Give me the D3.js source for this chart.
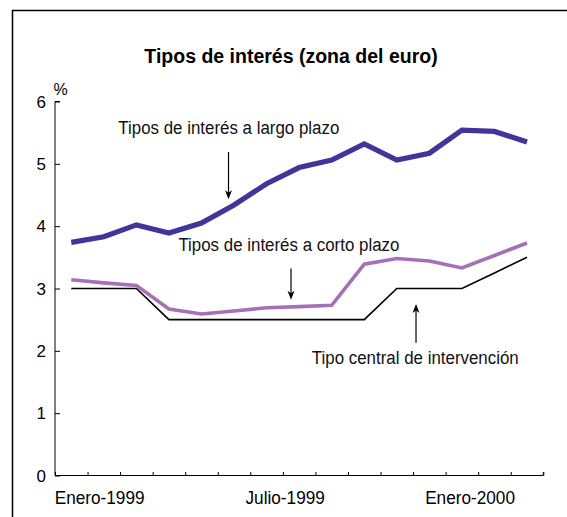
<!DOCTYPE html>
<html>
<head>
<meta charset="utf-8">
<script src="https://cdn.jsdelivr.net/npm/d3@7/dist/d3.min.js"></script>
<style>
  html, body { margin: 0; padding: 0; background: #fff; }
  svg { display: block; font-family: "Liberation Sans", Arial, sans-serif; }
</style>
</head>
<body>
<svg id="chart" width="567" height="517"></svg>
<script>
// ---- Data ----
const months = ["1999-01","1999-02","1999-03","1999-04","1999-05","1999-06","1999-07",
                "1999-08","1999-09","1999-10","1999-11","1999-12","2000-01","2000-02","2000-03"];
const longTerm  = [3.74, 3.83, 4.02, 3.89, 4.05, 4.34, 4.68, 4.94, 5.06, 5.32, 5.06, 5.17, 5.54, 5.52, 5.35];
const shortTerm = [3.14, 3.09, 3.05, 2.67, 2.59, 2.64, 2.69, 2.71, 2.73, 3.39, 3.48, 3.44, 3.33, 3.53, 3.73];
const refiRate  = [3.00, 3.00, 3.00, 2.50, 2.50, 2.50, 2.50, 2.50, 2.50, 2.50, 3.00, 3.00, 3.00, 3.25, 3.50];
const yTicks = [0, 1, 2, 3, 4, 5, 6];
const xTickLabels = ["Enero-1999", "Julio-1999", "Enero-2000"];
const xTickLabelPos = [1.37, 7.07, 12.75]; // centre of label, in months from start
const title = "Tipos de interés (zona del euro)";
const unitLabel = "%";
// annotations: text start (month, value), arrow from/to (month, value)
const annotations = [
  { text: "Tipos de interés a largo plazo", tx: 1.945, ty: 5.48, ax: 5.33, a0: 5.19, a1: 4.43 },
  { text: "Tipos de interés a corto plazo", tx: 3.79, ty: 3.60, ax: 7.25, a0: 3.32, a1: 2.82 },
  { text: "Tipo central de intervención",   tx: 7.89, ty: 1.79, ax: 11.09, a0: 2.13, a1: 2.75 }
];

// ---- Layout ----
const svg = d3.select("#chart");
const x = d3.scaleLinear().domain([0, months.length]).range([55, 543.3]);
const y = d3.scaleLinear().domain([0, 6]).range([475.5, 101.5]);

// frame (top & left)
svg.append("path")
  .attr("d", "M12.5,517 L12.5,10.5 L567,10.5")
  .attr("fill", "none").attr("stroke", "#000").attr("stroke-width", 1.5);

// title
svg.append("text")
  .attr("x", 291).attr("y", 63)
  .attr("text-anchor", "middle")
  .attr("font-weight", "bold").attr("font-size", 19.5)
  .attr("fill", "#000")
  .text(title);

// unit
svg.append("text")
  .attr("x", 60.5).attr("y", 94.5)
  .attr("text-anchor", "middle").attr("font-size", 16)
  .text(unitLabel);

// y axis
const yAxis = d3.axisRight(y).tickValues(yTicks).tickSize(5).tickFormat("");
const gy = svg.append("g").attr("transform", `translate(${x(0)},0)`).call(yAxis);
gy.select(".domain").attr("stroke", "#000").attr("d", `M5,${y(6)}H0V${y(0)}`);
gy.selectAll(".tick line").attr("stroke", "#000");
svg.append("g").selectAll("text").data(yTicks).join("text")
  .attr("x", 46).attr("y", d => y(d))
  .attr("dy", "0.36em")
  .attr("text-anchor", "end").attr("font-size", 17)
  .text(d => d);

// x axis
const xAxis = d3.axisTop(x).tickValues(d3.range(0, months.length + 1)).tickSize(3.5).tickFormat("");
const gx = svg.append("g").attr("transform", `translate(0,${y(0)})`).call(xAxis);
gx.select(".domain").attr("stroke", "#000").attr("d", `M${x(0)},0H${x(months.length)}V-3.5`);
gx.selectAll(".tick line").attr("stroke", "#000");
svg.append("g").selectAll("text").data(xTickLabels).join("text")
  .attr("transform", (d, i) => `translate(${x(xTickLabelPos[i])},504) scale(0.94,1)`)
  .attr("text-anchor", "middle").attr("font-size", 18.3)
  .text(d => d);

// lines
const line = d3.line().x((d, i) => x(i + 0.5)).y(d => y(d));
svg.append("path").datum(refiRate)
  .attr("d", line).attr("fill", "none").attr("stroke", "#000").attr("stroke-width", 1.6);
svg.append("path").datum(shortTerm)
  .attr("d", line).attr("fill", "none").attr("stroke", "#a670b6").attr("stroke-width", 3.6);
svg.append("path").datum(longTerm)
  .attr("d", line).attr("fill", "none").attr("stroke", "#41349a").attr("stroke-width", 5.2);

// annotations
annotations.forEach(a => {
  svg.append("text")
    .attr("transform", `translate(${x(a.tx)},${y(a.ty)}) scale(0.96,1)`)
    .attr("font-size", 17.6).attr("fill", "#111")
    .text(a.text);
  const ax = x(a.ax), y0 = y(a.a0), y1 = y(a.a1);
  const dir = y1 > y0 ? 1 : -1;
  svg.append("line")
    .attr("x1", ax).attr("x2", ax).attr("y1", y0).attr("y2", y1 - dir * 6)
    .attr("stroke", "#000").attr("stroke-width", 1.2);
  svg.append("path")
    .attr("d", `M${ax},${y1} L${ax - 3.5},${y1 - dir * 9} L${ax},${y1 - dir * 6.5} L${ax + 3.5},${y1 - dir * 9} Z`)
    .attr("fill", "#000");
});
</script>
</body>
</html>
